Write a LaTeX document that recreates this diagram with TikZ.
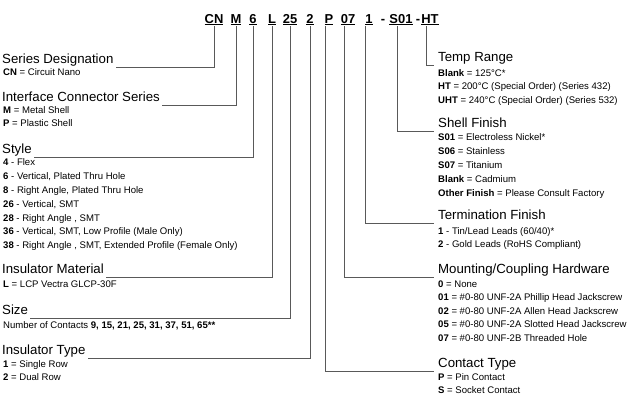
\documentclass[tikz,border=0pt]{standalone}
\usepackage{fontspec}
\setmainfont{Liberation Sans}
\usetikzlibrary{positioning}
\begin{document}
\begin{tikzpicture}[x=1bp,y=-1bp,
		% Style definitions
		code/.style={font=\fontsize{13}{13}\selectfont\bfseries, inner sep=1pt, anchor=base},
		title/.style={font=\fontsize{13.3}{14}\selectfont, inner xsep=4pt, inner ysep=0pt, anchor=base west},
		item/.style={font=\fontsize{9.6}{10}\selectfont, inner sep=0pt, anchor=base west},
		lead/.style={draw=black!65, thin},
		]
		\useasboundingbox (0,0) rectangle (640,417);
		% === Part number ===
		\foreach \name/\x/\t in {cn/214/CN, m/236/M, s/253/6, l/272/L, n/290/25, r/310/2, p/329/P, h/348/07, t/369/1, f/401/S01, ht/430/HT}
			{\node[code] (\name) at (\x,23) {\underline{\t}};}
		\node[code] (d1) at (383,23) {-};
		\node[code] (d2) at (418,23) {-};

		% === Left column ===
		\node[title, inner xsep=2pt] (sd) at (0,63) {Series Designation\hspace{4pt}};
		\node[item] at (3,75) {\textbf{CN} = Circuit Nano};
		\node[title, inner xsep=2pt] (ic) at (0,101) {Interface Connector Series\hspace{4pt}};
		\node[item] at (3,113) {\textbf{M} = Metal Shell};
		\node[item] at (3,126) {\textbf{P} = Plastic Shell};
		\node[title, inner xsep=2pt] (st) at (0,153) {Style\hspace{4pt}};
		\foreach \k/\v [count=\i] in {4/Flex, 6/{Vertical, Plated Thru Hole}, 8/{Right Angle, Plated Thru Hole}, 26/{Vertical, SMT}, 28/{Right Angle , SMT}, 36/{Vertical, SMT, Low Profile (Male Only)}, 38/{Right Angle , SMT, Extended Profile (Female Only)}}
			{\node[item] at (3,152+13.8*\i) {\textbf{\k} - \v};}
		\node[title, inner xsep=2pt] (im) at (0,273) {Insulator Material\hspace{4pt}};
		\node[item] at (3,287) {\textbf{L} = LCP Vectra GLCP-30F};
		\node[title, inner xsep=2pt] (sz) at (0,314) {Size\hspace{4pt}};
		\node[item] at (3,328) {Number of Contacts \textbf{9, 15, 21, 25, 31, 37, 51, 65**}};
		\node[title, inner xsep=2pt] (it) at (0,354) {Insulator Type\hspace{4pt}};
		\node[item] at (3,367) {\textbf{1} = Single Row};
		\node[item] at (3,380) {\textbf{2} = Dual Row};

		% === Right column ===
		\node[title] (tr) at (434,61) {Temp Range};
		\node[item] at (438,76) {\textbf{Blank} = 125°C*};
		\node[item] at (438,89) {\textbf{HT} = 200°C (Special Order) (Series 432)};
		\node[item] at (438,103) {\textbf{UHT} = 240°C (Special Order) (Series 532)};
		\node[title] (sf) at (434,127) {Shell Finish};
		\foreach \k/\v [count=\i] in {S01/Electroless Nickel*, S06/Stainless, S07/Titanium, Blank/Cadmium, Other Finish/Please Consult Factory}
			{\node[item] at (438,127+13.9*\i) {\textbf{\k} = \v};}
		\node[title] (tf) at (434,219) {Termination Finish};
		\node[item] at (438,234) {\textbf{1} - Tin/Lead Leads (60/40)*};
		\node[item] at (438,247) {\textbf{2} - Gold Leads (RoHS Compliant)};
		\node[title] (mh) at (434,273) {Mounting/Coupling Hardware};
		\node[item] at (438,287) {\textbf{0} = None};
		\foreach \k/\v [count=\i] in {01/Phillip Head Jackscrew, 02/Allen Head Jackscrew, 05/Slotted Head Jackscrew, 07/Threaded Hole}
			{\node[item] at (438,287+13.6*\i) {\textbf{\k} = \#0-80 UNF-2\ifnum\i=4 B\else A\fi\ \v};}
		\node[title] (ct) at (434,367) {Contact Type};
		\node[item] at (438,380) {\textbf{P} = Pin Contact};
		\node[item] at (438,393) {\textbf{S} = Socket Contact};

		% === Leader lines ===
		\foreach \a/\b in {cn/sd, m/ic, s/st, l/im, n/sz, r/it}
			{\draw[lead] (\a.south) |- ([yshift=-4pt]\b.base east);}
		\foreach \a/\b in {ht/tr, f/sf, t/tf, h/mh, p/ct}
			{\draw[lead] ([xshift=-4pt]\a.south) |- ([yshift=-4pt]\b.base west);}
	\end{tikzpicture}
\end{document}
